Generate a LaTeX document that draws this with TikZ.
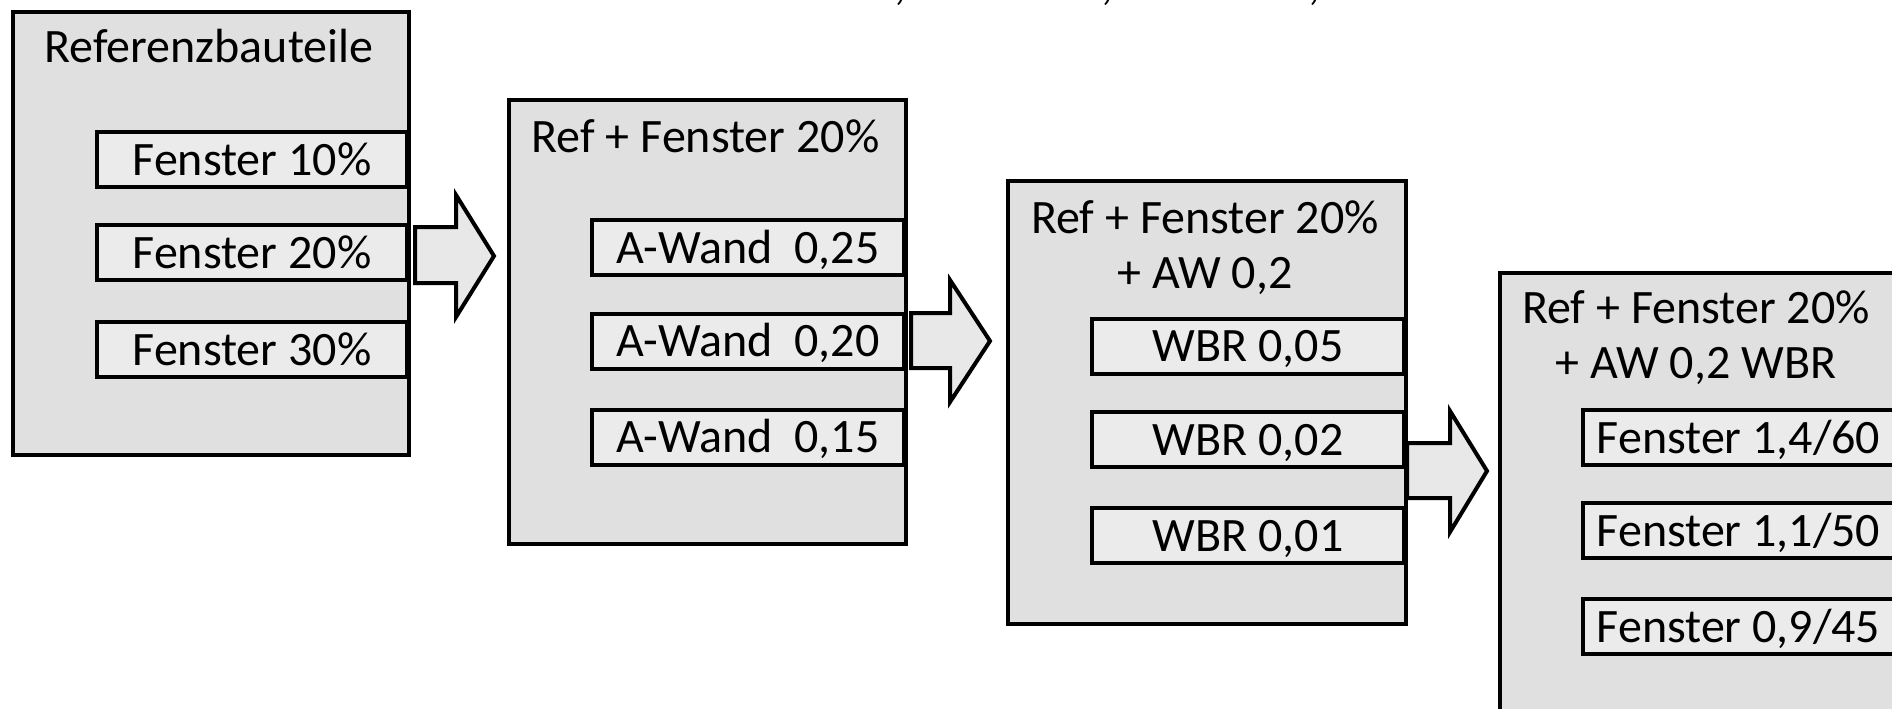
\documentclass[tikz,border=0pt]{standalone}
\usepackage{fontspec}
\setmainfont{Carlito}
\definecolor{outerfill}{RGB}{224,224,224}
\definecolor{innerfill}{RGB}{235,235,235}
\definecolor{arrowfill}{RGB}{232,232,232}
\tikzset{
  bigfont/.style={font=\fontsize{48}{55}\selectfont},
  outerbox/.style={draw=black, line width=4pt, fill=outerfill, inner sep=0pt, anchor=north west},
  innerbox/.style={draw=black, line width=4pt, fill=innerfill, inner sep=0pt, bigfont,
                   text height=31pt, text depth=0pt, minimum height=55pt},
  titletext/.style={bigfont, anchor=base, inner sep=0pt, align=center},
  fatarrow/.style={draw=black, line width=4pt, fill=arrowfill, line join=miter},
}
\begin{document}
\begin{tikzpicture}[x=1pt,y=-1pt]
\useasboundingbox (0,0) rectangle (1892,709);
\clip (0,0) rectangle (1892,709);

% cut-off text fragments at the top edge
\node[bigfont, anchor=base, inner sep=0pt] (c1) at (900,0) {,};
\node[bigfont, anchor=base, inner sep=0pt] (c2) at (1107,0) {,};
\node[bigfont, anchor=base, inner sep=0pt] (c3) at (1314,0) {,};

% outer boxes
\node[outerbox, minimum width=396pt, minimum height=443pt] (b1) at (11,10) {};
\node[outerbox, minimum width=397pt, minimum height=444pt] (b2) at (507,98) {};
\node[outerbox, minimum width=398pt, minimum height=443pt] (b3) at (1006,179) {};
\node[outerbox, minimum width=396pt, minimum height=460pt] (b4) at (1498,271) {};

% titles
\node[titletext] (t1) at (209,63) {Referenzbauteile};
\node[titletext] (t2) at (705.5,152) {Ref + Fenster 20\%};
\node[titletext] (t3a) at (1205,233) {Ref + Fenster 20\%};
\node[titletext] (t3b) at (1205,288) {+ AW 0,2};
\node[titletext] (t4a) at (1696,323) {Ref + Fenster 20\%};
\node[titletext] (t4b) at (1696,378) {+ AW 0,2 WBR};

% inner boxes, box 1
\node[innerbox, minimum width=310pt] (f10) at (252,159.5) {Fenster 10\%};
\node[innerbox, minimum width=310pt] (f20) at (252,252.5) {Fenster 20\%};
\node[innerbox, minimum width=310pt] (f30) at (252,349.5) {Fenster 30\%};
% box 2
\node[innerbox, minimum width=312pt] (aw25) at (748,247.5) {A-Wand\ \ 0,25};
\node[innerbox, minimum width=312pt] (aw20) at (748,341) {A-Wand\ \ 0,20};
\node[innerbox, minimum width=312pt] (aw15) at (748,437) {A-Wand\ \ 0,15};
% box 3
\node[innerbox, minimum width=312pt] (w05) at (1248,346) {WBR 0,05};
\node[innerbox, minimum width=312pt] (w02) at (1248,439.5) {WBR 0,02};
\node[innerbox, minimum width=312pt] (w01) at (1248,535.5) {WBR 0,01};
% box 4
\node[innerbox, minimum width=311pt] (fa) at (1738.5,437.5) {Fenster 1,4/60};
\node[innerbox, minimum width=311pt] (fb) at (1738.5,530.5) {Fenster 1,1/50};
\node[innerbox, minimum width=311pt] (fc) at (1738.5,626.5) {Fenster 0,9/45};

% block arrows between the boxes
\draw[fatarrow] (415,227) -- (456,227) -- (456,195) -- (494,256) -- (456,317) -- (456,283) -- (415,283) -- cycle;
\draw[fatarrow] (911,313) -- (950,313) -- (950,280) -- (990,341) -- (950,402) -- (950,368) -- (911,368) -- cycle;
\draw[fatarrow] (1407,443) -- (1450,443) -- (1450,411) -- (1487,471) -- (1450,532) -- (1450,498) -- (1407,498) -- cycle;
\end{tikzpicture}
\end{document}
